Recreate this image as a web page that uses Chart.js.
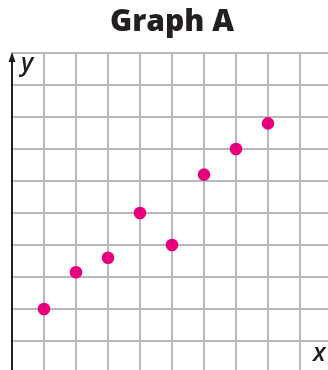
<!DOCTYPE html>
<html>
<head>
<meta charset="utf-8">
<script src="https://cdn.jsdelivr.net/npm/chart.js@4"></script>
<style>
  html, body { margin: 0; padding: 0; overflow: hidden; background: #fff; width: 328px; height: 370px; }
  #wrap { position: absolute; left: 0; top: 0; }
</style>
</head>
<body>
<div id="wrap"><canvas id="graphA" width="344" height="390"></canvas></div>
<script>
// points (one unit per grid square)
const xValues = [1, 2, 3, 4, 5, 6, 7, 8];
const yValues = [2, 3.15, 3.6, 5, 4, 6.2, 7, 7.8];
const titleText = 'Graph A';
const xLabel = 'x';
const yLabel = 'y';

const points = xValues.map((x, i) => ({ x: x, y: yValues[i] }));

// black y axis with arrow plus the italic axis letters
const axisDecor = {
  id: 'axisDecor',
  afterDraw(chart) {
    const ctx = chart.ctx;
    const area = chart.chartArea;
    const ax = area.left;
    ctx.save();
    ctx.strokeStyle = '#231f20';
    ctx.fillStyle = '#231f20';
    ctx.lineWidth = 2;
    ctx.beginPath();
    ctx.moveTo(ax, area.top + 6);
    ctx.lineTo(ax, chart.height);
    ctx.stroke();
    ctx.beginPath();
    ctx.moveTo(ax, area.top - 1);
    ctx.lineTo(ax - 3.5, area.top + 9);
    ctx.lineTo(ax + 3.5, area.top + 9);
    ctx.closePath();
    ctx.fill();

    ctx.font = 'italic 600 25px "Open Sans"';
    ctx.textBaseline = 'alphabetic';
    ctx.textAlign = 'left';
    ctx.fillText(yLabel, ax + 9, area.top + 18);
    ctx.fillText(xLabel, 313, 361);
    ctx.restore();
  }
};

const gridStyle = { color: '#b9b9bd', lineWidth: 2, drawTicks: false };

new Chart(document.getElementById('graphA'), {
  type: 'scatter',
  data: {
    datasets: [{
      data: points,
      backgroundColor: '#e6007e',
      borderColor: '#e6007e',
      pointRadius: 6.3,
      pointHoverRadius: 6.3,
      borderWidth: 0
    }]
  },
  options: {
    responsive: false,
    animation: false,
    events: [],
    layout: { padding: { left: 12, right: 12, bottom: 17, top: 0 } },
    plugins: {
      legend: { display: false },
      tooltip: { enabled: false },
      title: {
        display: true,
        text: titleText,
        color: '#231f20',
        font: { family: 'Open Sans', size: 30, weight: 800, lineHeight: 1.2 },
        padding: { top: 4, bottom: 13 }
      }
    },
    scales: {
      x: {
        min: 0, max: 10,
        ticks: { display: false, stepSize: 1 },
        grid: gridStyle,
        border: { display: false },
        afterFit(s) { s.height = 0; }
      },
      y: {
        min: 0, max: 10,
        ticks: { display: false, stepSize: 1 },
        grid: gridStyle,
        border: { display: false },
        afterFit(s) { s.width = 0; }
      }
    }
  },
  plugins: [axisDecor]
});
</script>
</body>
</html>
